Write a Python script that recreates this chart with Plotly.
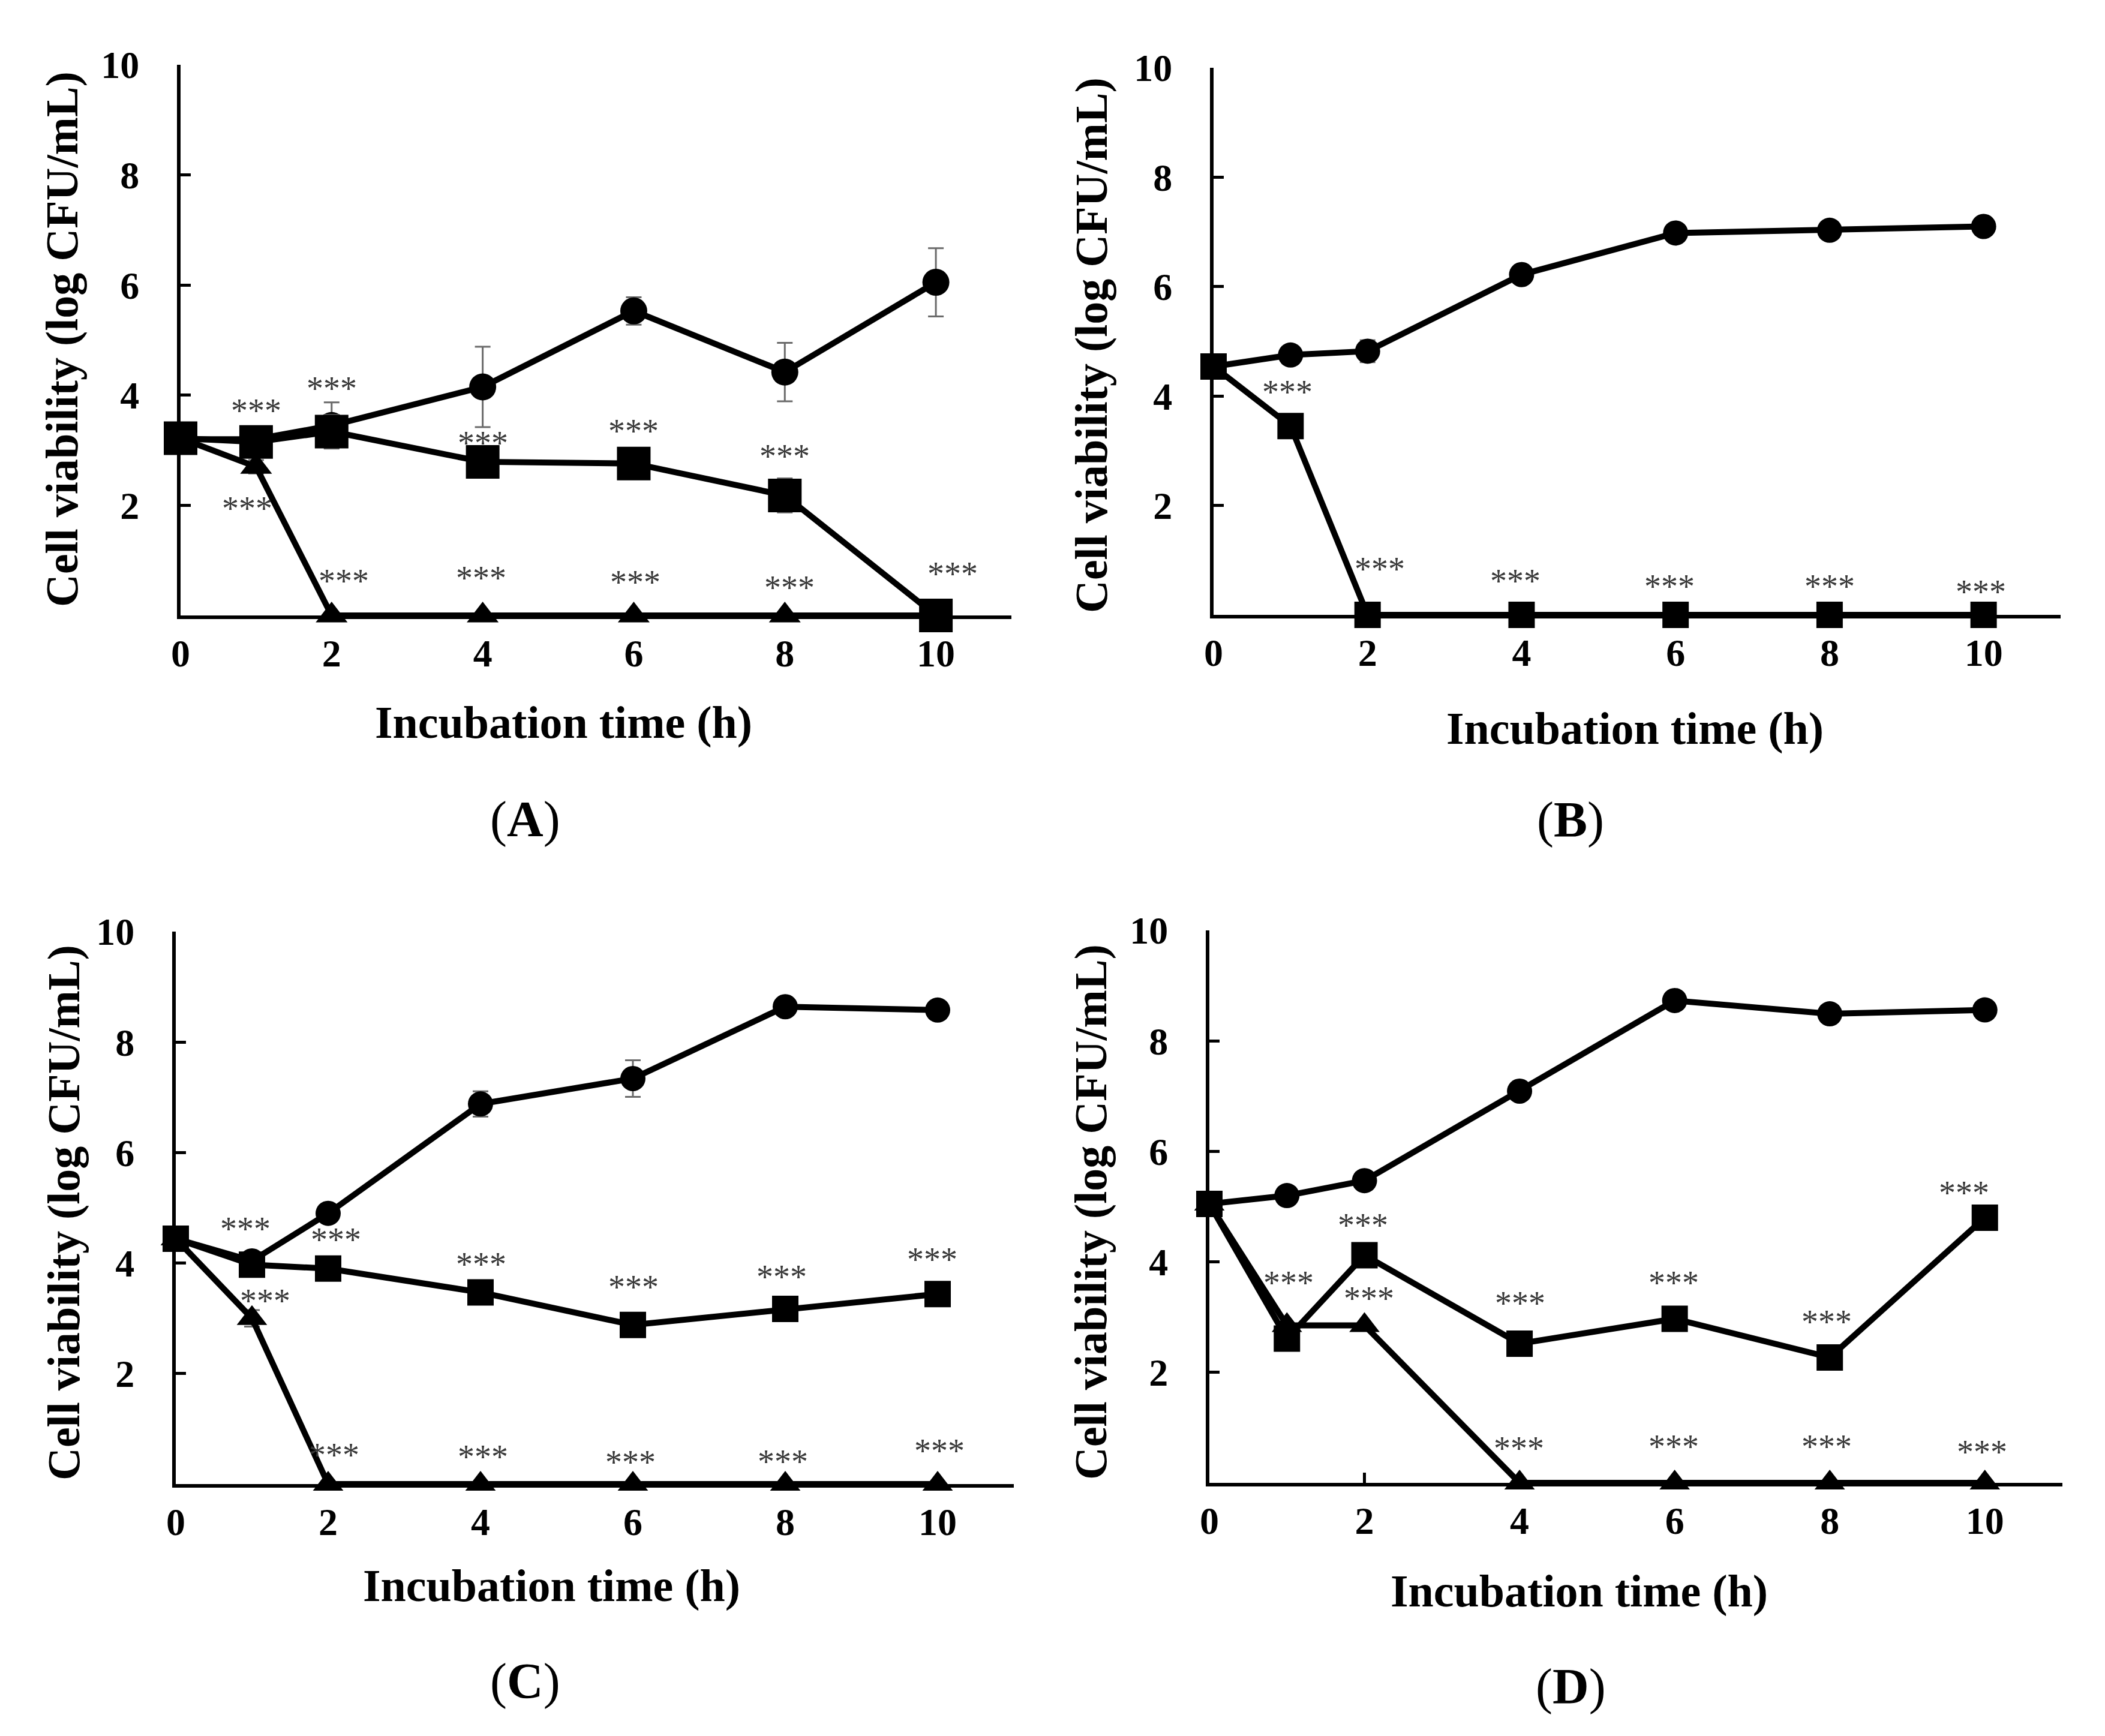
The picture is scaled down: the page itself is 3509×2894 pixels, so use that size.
import plotly.graph_objects as go

W, H = 3509, 2894
OFF = 8  # page body margin of the exported html
FONT = "Liberation Serif"

time = [0, 1, 2, 4, 6, 8, 10]

# Panel A
a_circle = [3.20, 3.20, 3.45, 4.15, 5.53, 4.42, 6.05]
a_circle_err = [0, 0, 0.42, 0.73, 0.25, 0.53, 0.62]
a_square = [3.22, 3.15, 3.34, 2.79, 2.76, 2.18, 0.0]
a_square_err = [0, 0.05, 0.3, 0.05, 0.05, 0.31, 0]
a_triangle = [3.22, 2.70, 0, 0, 0, 0, 0]
a_triangle_err = [0, 0.12, 0, 0, 0, 0, 0]
a_star_x = [1.0, 2.0, 4.0, 6.0, 8.0, 0.88, 2.16, 3.98, 6.02, 8.06, 10.22]
a_star_y = [3.79, 4.19, 3.20, 3.42, 2.96, 2.01, 0.70, 0.75, 0.67, 0.58, 0.83]

# Panel B
b_circle = [4.54, 4.75, 4.82, 6.22, 6.98, 7.03, 7.10]
b_circle_err = [0.05, 0.05, 0.2, 0.05, 0.05, 0.05, 0.05]
b_square = [4.54, 3.45, 0, 0, 0, 0, 0]
b_square_err = [0, 0.08, 0, 0, 0, 0, 0]
b_star_x = [0.96, 2.16, 3.92, 5.92, 8.0, 9.96]
b_star_y = [4.14, 0.91, 0.69, 0.59, 0.59, 0.49]

# Panel C
c_circle = [4.44, 4.04, 4.90, 6.88, 7.34, 8.64, 8.58]
c_circle_err = [0.05, 0.05, 0.08, 0.23, 0.33, 0.05, 0.05]
c_square = [4.44, 3.97, 3.90, 3.47, 2.88, 3.17, 3.44]
c_square_err = [0, 0.05, 0.05, 0.05, 0.08, 0.05, 0.05]
c_triangle = [4.44, 3.00, 0, 0, 0, 0, 0]
c_triangle_err = [0, 0.15, 0, 0, 0, 0, 0]
c_star_x = [0.91, 2.1, 4.01, 6.01, 7.95, 9.93, 1.17, 2.08, 4.03, 5.97, 7.97, 10.02]
c_star_y = [4.69, 4.50, 4.05, 3.64, 3.82, 4.14, 3.39, 0.60, 0.57, 0.47, 0.48, 0.67]

# Panel D
d_circle = [5.05, 5.20, 5.47, 7.09, 8.73, 8.49, 8.56]
d_circle_err = [0.05, 0.05, 0.05, 0.12, 0.05, 0.05, 0.05]
d_square = [5.05, 2.61, 4.12, 2.52, 2.97, 2.27, 4.80]
d_square_err = [0, 0.05, 0.08, 0.12, 0.05, 0.05, 0.05]
d_triangle = [5.05, 2.85, 2.85, 0, 0, 0, 0]
d_star_x = [1.02, 1.98, 2.06, 4.01, 5.99, 7.96, 9.73, 3.99, 5.99, 7.96, 9.96]
d_star_y = [3.69, 4.73, 3.41, 3.32, 3.69, 2.99, 5.32, 0.70, 0.73, 0.73, 0.63]

# panel boxes in pixels: left, right, top, bottom
boxes = {
    "A": (301, 1686, 108, 1026),
    "B": (2023, 3435, 113, 1025),
    "C": (293, 1690, 1553, 2474),
    "D": (2016, 3438, 1551, 2472),
}
xtitle_pos = {"A": (940, 1205), "B": (2725, 1214), "C": (920, 2643), "D": (2632, 2652)}
ytitle_pos = {"A": (103, 566), "B": (1819, 575), "C": (106, 2022), "D": (1819, 2020)}
label_pos = {"A": (875, 1366), "B": (2618, 1367), "C": (875, 2803), "D": (2618, 2812)}


def fx(px_):
    return (px_ - OFF) / W


def fy(py_):
    return 1 - (py_ - OFF) / H


fig = go.Figure()
annotations = []


def err(vals):
    return dict(type="data", array=vals, visible=True, color="#6a6a6a", thickness=3, width=13)


def series(n, y, symbol, size, errs=None):
    xa = "x" if n == 1 else "x%d" % n
    ya = "y" if n == 1 else "y%d" % n
    fig.add_trace(go.Scatter(x=time, y=y, mode="lines+markers", xaxis=xa, yaxis=ya,
                             line=dict(color="black", width=10), cliponaxis=False,
                             marker=dict(symbol=symbol, size=size, color="black"),
                             error_y=err(errs) if errs else None, showlegend=False))


def stars(n, xs, ys):
    xa = "x" if n == 1 else "x%d" % n
    ya = "y" if n == 1 else "y%d" % n
    for x, y in zip(xs, ys):
        annotations.append(dict(x=x, y=y, xref=xa, yref=ya, text="***", showarrow=False,
                                xanchor="center", yanchor="middle", yshift=-7,
                                font=dict(family=FONT, size=56, color="#383838")))


def paper_text(px_, py_, text, size, angle=0):
    annotations.append(dict(x=fx(px_), y=fy(py_), xref="paper", yref="paper", showarrow=False,
                            xanchor="center", yanchor="middle", text=text, textangle=angle,
                            font=dict(family=FONT, size=size, color="black")))


# A
series(1, a_triangle, "triangle-up", 46, a_triangle_err)
series(1, a_circle, "circle", 45, a_circle_err)
series(1, a_square, "square", 56, a_square_err)
stars(1, a_star_x, a_star_y)
# B
series(2, b_circle, "circle", 42, b_circle_err)
series(2, b_square, "square", 44, b_square_err)
stars(2, b_star_x, b_star_y)
# C
series(3, c_triangle, "triangle-up", 44, c_triangle_err)
series(3, c_circle, "circle", 42, c_circle_err)
series(3, c_square, "square", 44, c_square_err)
stars(3, c_star_x, c_star_y)
# D
series(4, d_triangle, "triangle-up", 44)
series(4, d_circle, "circle", 42, d_circle_err)
series(4, d_square, "square", 44, d_square_err)
stars(4, d_star_x, d_star_y)

layout = {}
for i, key in enumerate(["A", "B", "C", "D"], start=1):
    l, r, t, b = boxes[key]
    sfx = "" if i == 1 else str(i)
    layout["xaxis" + sfx] = dict(
        domain=[fx(l), fx(r)], anchor="y" + sfx, range=[0, 11], automargin=False,
        tickvals=[0, 2, 4, 6, 8, 10], ticks="inside", ticklen=17, tickwidth=5, tickcolor="black",
        showline=True, linecolor="black", linewidth=6, showgrid=False, zeroline=False,
        ticklabelstandoff=2,
        tickfont=dict(family=FONT, size=64, color="black", weight="bold"))
    layout["yaxis" + sfx] = dict(
        domain=[fy(b), fy(t)], anchor="x" + sfx, range=[0, 10], automargin=False,
        tickvals=[2, 4, 6, 8, 10], ticks="inside", ticklen=17, tickwidth=5, tickcolor="black",
        showline=True, linecolor="black", linewidth=6, showgrid=False, zeroline=False,
        ticklabelstandoff=50,
        tickfont=dict(family=FONT, size=64, color="black", weight="bold"))

    paper_text(*xtitle_pos[key], "<b>Incubation time (h)</b>", 76)
    paper_text(*ytitle_pos[key], "<b>Cell viability (log CFU/mL)</b>", 76, -90)
    paper_text(*label_pos[key], "(<b>%s</b>)" % key, 84)

fig.update_layout(width=W, height=H, margin=dict(l=0, r=0, t=0, b=0, autoexpand=False),
                  plot_bgcolor="white", paper_bgcolor="white",
                  annotations=annotations, **layout)

fig.write_html("out.html")
